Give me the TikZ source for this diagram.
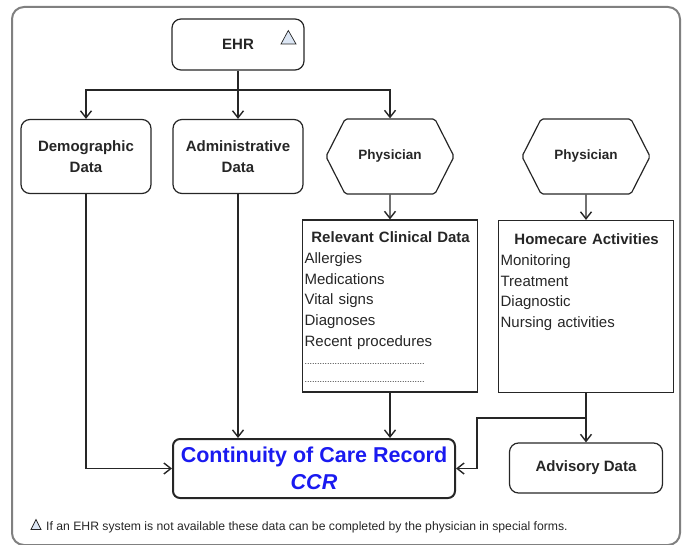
\documentclass[tikz,border=0pt]{standalone}
\usepackage{fontspec}
\setmainfont{Liberation Sans}
\usetikzlibrary{arrows.meta,shapes.symbols}
\definecolor{ink}{HTML}{262626}
\definecolor{framegray}{HTML}{808080}
\definecolor{ccrblue}{HTML}{1A1AF0}
\definecolor{trifill}{HTML}{DCE6F4}
\newcommand{\dotrow}{{\fontsize{9}{10}\selectfont ................................................}}

\begin{document}
\begin{tikzpicture}[x=1pt, y=-1pt, >={Straight Barb[length=7pt,width=11pt]},
  databox/.style={draw=ink, line width=1.2pt, rounded corners=9pt, minimum width=130pt,
    minimum height=74pt, inner sep=0pt, align=center, text=ink,
    font=\fontsize{15}{21}\selectfont\bfseries},
  role/.style={signal, signal to=west and east, signal pointer angle=126, draw=ink,
    line width=1.2pt, rounded corners=2pt, minimum width=128pt, minimum height=75pt,
    inner sep=0pt, text=ink, font=\fontsize{13.5}{16}\selectfont\bfseries},
  docbox/.style={draw=ink, line width=1.2pt, minimum width=175pt, minimum height=172pt, inner sep=0pt},
  doctext/.style={anchor=north west, inner sep=0pt, text width=172pt, align=left, text=ink,
    font=\fontsize{15}{20.8}\selectfont},
  flow/.style={->, draw=ink, line width=1.4pt},
  hint/.style={draw=ink, fill=trifill, line width=0.7pt}]
  \useasboundingbox (0,0) rectangle (682,545);
  \draw[framegray, line width=2pt, rounded corners=12pt] (12,7) rectangle (680,545);

  % sources
  \node[databox, minimum width=132pt, minimum height=51pt] (ehr) at (238,44.5) {EHR};
  \draw[hint] (288.3,30.5) -- (281,44) -- (296,44) -- cycle;
  \node[databox] (demo) at (86,156.5) {Demographic\\Data};
  \node[databox] (admin) at (238,156.5) {Administrative\\Data};
  \node[role] (phys) at (390,156.5) {Physician};
  \node[role] (physhc) at (586,156.5) {Physician};

  % lists
  \node[docbox] (clin) at (390,306) {};
  \node[doctext] (clinlist) at ([xshift=2.5pt,yshift=-12pt]clin.north west)
    {\makebox[\linewidth]{\bfseries Relevant Clinical Data}\\Allergies\\Medications\\Vital signs\\
     Diagnoses\\Recent procedures\\[-3pt]\dotrow\\[-3pt]\dotrow};
  \node[docbox] (home) at (586,306.5) {};
  \node[doctext] (homelist) at ([xshift=2.5pt,yshift=-13.5pt]home.north west)
    {\makebox[\linewidth]{\bfseries Homecare Activities}\\Monitoring\\Treatment\\Diagnostic\\Nursing activities};

  % targets
  \node[databox, line width=2pt, rounded corners=7pt, minimum width=282pt, minimum height=59pt,
    text=ccrblue, font=\fontsize{21.5}{27}\selectfont\bfseries] (ccr) at (314,468.5)
    {Continuity of Care Record\\\textit{CCR}};
  \node[databox, minimum width=153pt, minimum height=50pt] (advice) at (586,468) {Advisory Data};

  % connectors
  \coordinate (fork) at (238,90);
  \draw[ink, line width=1.4pt] (ehr) -- (fork);
  \draw[flow] (fork) -| (demo);
  \draw[flow] (fork) -- (admin);
  \draw[flow] (fork) -| (phys);
  \draw[flow] (phys) -- (clin);
  \draw[flow] (physhc) -- (home);
  \draw[flow] (demo.south) |- (ccr.west);
  \draw[flow] (admin.south) -- (admin.south |- ccr.north);
  \draw[flow] (clin.south) -- (clin.south |- ccr.north);
  \coordinate (join) at (586,418);
  \coordinate (bend) at (477,418);
  \draw[ink, line width=1.4pt] (home) -- (join);
  \draw[flow] (join) -- (advice);
  \draw[flow] (join) -- (bend) |- (ccr.east);

  % footnote
  \draw[hint] (36,519.5) -- (31,529.5) -- (41,529.5) -- cycle;
  \node[anchor=base west, inner sep=0pt, text=ink, font=\fontsize{12.2}{14}\selectfont] (note) at (46,530)
    {If an EHR system is not available these data can be completed by the physician in special forms.};
\end{tikzpicture}
\end{document}
